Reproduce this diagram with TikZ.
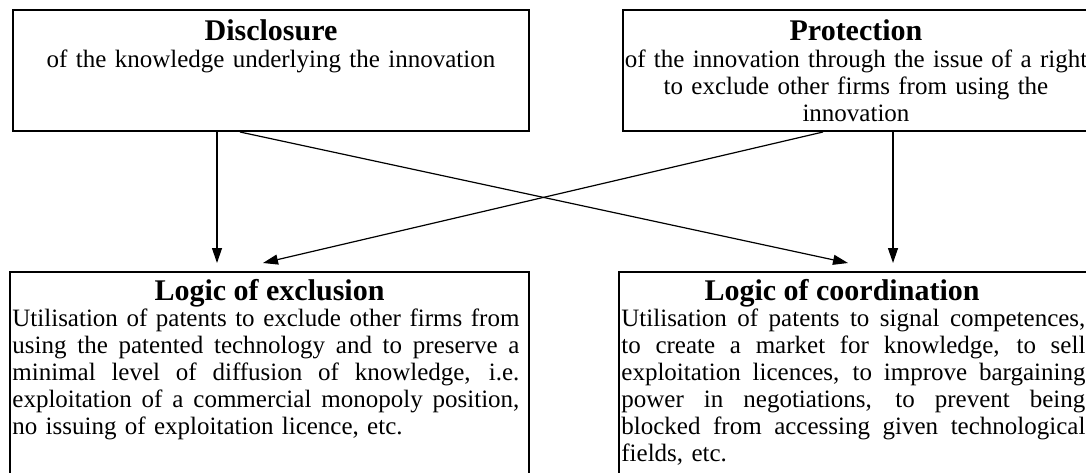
\documentclass[tikz,border=0pt]{standalone}
\usepackage{fontspec}
\setmainfont{Liberation Serif}
\usetikzlibrary{arrows.meta,fit}

% one justified line of a box text, spaces stretched to the width \jw
\newlength{\jw}
\newcommand{\jline}[1]{\makebox[\jw][s]{\spaceskip=0.25em plus 3em\relax #1}\\}
\setlength{\lineskiplimit}{-10pt}

\begin{document}
\begin{tikzpicture}[x=0.5pt, y=-0.5pt, >={Triangle[length=7.5pt,width=5pt]},
	box/.style={draw, line width=1pt, inner sep=0pt},
	ttl/.style={font=\fontsize{15}{18}\selectfont\bfseries, inner sep=0pt, anchor=base},
	upbody/.style={font=\fontsize{12.5}{13.5}\selectfont, align=center, inner sep=0pt, anchor=base},
	lowbody/.style={font=\fontsize{12.5}{13.5}\selectfont, align=left, inner sep=0pt, anchor=base west},
	arr/.style={->, line width=0.6pt}]

	\path[use as bounding box] (0,0) rectangle (1086,472);
	\clip (0,0) rectangle (1086,472);

	% ================= Upper row: the two functions =================
	\node[box, fit={(13,10) (529,131)}] (disc) {};
	\node[ttl] (discT) at (271,40) {Disclosure};
	\node[upbody, text width=258pt] (discB) at (271,67)
		{of the knowledge underlying the innovation};

	\node[box, fit={(623,10) (1089,131)}] (prot) {};
	\node[ttl] (protT) at (856,40) {Protection};
	\node[upbody, text width=233pt] (protB) at (856,67)
		{of the innovation through the issue of a right\\
		to exclude other firms from using the\\
		innovation};

	% ================= Lower row: the two logics =================
	\node[box, fit={(10,272) (529,490)}] (excl) {};
	\node[ttl] (exclT) at (269.5,300) {Logic of exclusion};
	\node[lowbody, text width=253.5pt] (exclB) at (12,326) {%
		\setlength{\jw}{253.5pt}%
		\jline{Utilisation of patents to exclude other firms from}
		\jline{using the patented technology and to preserve a}
		\jline{minimal level of diffusion of knowledge, i.e.}
		\jline{exploitation of a commercial monopoly position,}
		no issuing of exploitation licence, etc.};

	\node[box, fit={(619,272) (1089,490)}] (coord) {};
	\node[ttl] (coordT) at (842,300) {Logic of coordination};
	\node[lowbody, text width=232pt] (coordB) at (621,326) {%
		\setlength{\jw}{232pt}%
		\jline{Utilisation of patents to signal competences,}
		\jline{to create a market for knowledge, to sell}
		\jline{exploitation licences, to improve bargaining}
		\jline{power in negotiations, to prevent being}
		\jline{blocked from accessing given technological}
		fields, etc.};

	% arrow ends just above the lower boxes
	\coordinate (eA) at (217,263);
	\coordinate (eB) at (263,263);
	\coordinate (cA) at (848,263);
	\coordinate (cB) at (893,263);
	\coordinate (dB) at (240,0);
	\coordinate (pA) at (823,0);

	\draw[arr] (disc.south -| eA) -- (eA);
	\draw[arr] (disc.south -| dB) -- (cA);
	\draw[arr] (prot.south -| pA) -- (eB);
	\draw[arr] (prot.south -| cB) -- (cB);

\end{tikzpicture}
\end{document}
